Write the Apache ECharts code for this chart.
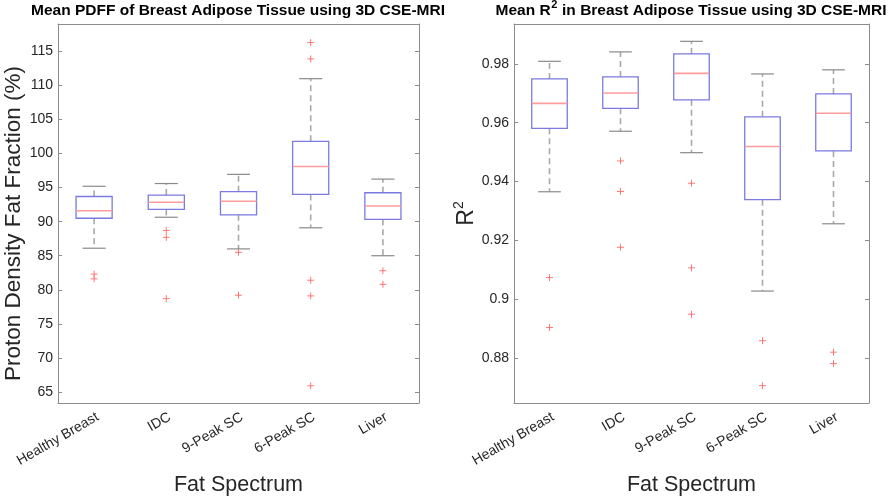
<!DOCTYPE html>
<html><head><meta charset="utf-8">
<script src="https://cdn.jsdelivr.net/npm/echarts@6/dist/echarts.min.js"></script>
<style>html,body{margin:0;padding:0;background:#fff}#c{width:896px;height:499px}</style>
</head><body><div id="c"></div>
<script>
const categories = ['Healthy Breast', 'IDC', '9-Peak SC', '6-Peak SC', 'Liver'];

// [lower whisker, Q1, median, Q3, upper whisker]
const pdffBoxes = [
  [86.1, 90.5, 91.6, 93.7, 95.2],
  [90.65, 91.8, 92.85, 93.9, 95.6],
  [86.0, 91.0, 93.0, 94.4, 96.95],
  [89.1, 94.0, 98.1, 101.8, 111.0],
  [85.0, 90.35, 92.3, 94.25, 96.25]
];
const pdffOutliers = [
  [0, 82.3], [0, 81.6],
  [1, 88.7], [1, 87.7], [1, 78.7],
  [2, 85.5], [2, 79.2],
  [3, 116.3], [3, 113.9], [3, 81.4], [3, 79.1], [3, 65.9],
  [4, 82.8], [4, 80.8]
];
const pdffTicks = [65, 70, 75, 80, 85, 90, 95, 100, 105, 110, 115];
const pdffRange = [63.37, 119.03];

const r2Boxes = [
  [0.9365, 0.9581, 0.9666, 0.9749, 0.9809],
  [0.9571, 0.9649, 0.9701, 0.9756, 0.9841],
  [0.9498, 0.9678, 0.9768, 0.9834, 0.9877],
  [0.9027, 0.9338, 0.9519, 0.9620, 0.9766],
  [0.9256, 0.9504, 0.9632, 0.9698, 0.9780]
];
const r2Outliers = [
  [0, 0.9073], [0, 0.8903],
  [1, 0.9470], [1, 0.9366], [1, 0.9176],
  [2, 0.9394], [2, 0.9106], [2, 0.8948],
  [3, 0.8858], [3, 0.8705],
  [4, 0.8819], [4, 0.8780]
];
const r2Ticks = [0.88, 0.9, 0.92, 0.94, 0.96, 0.98];
const r2Range = [0.8646, 0.9936];

const leftTitle = 'Mean PDFF of Breast Adipose Tissue using 3D CSE-MRI';
const rightTitleParts = ['Mean R', '2', ' in Breast Adipose Tissue using 3D CSE-MRI'];
const xName = 'Fat Spectrum';
const leftYName = 'Proton Density Fat Fraction (%)';

const FONT = '"Liberation Sans", Arial, sans-serif';
const AXIS_COLOR = '#8c8c8c';
const TEXT_COLOR = '#262626';

function renderBox(params, api) {
  const i = api.value(0);
  const lo = api.value(1), q1 = api.value(2), med = api.value(3), q3 = api.value(4), hi = api.value(5);
  const band = api.size([1, 0])[0];
  const half = band * 0.25;
  const cap = band * 0.16;
  const pLo = api.coord([i, lo]), pQ1 = api.coord([i, q1]), pMed = api.coord([i, med]);
  const pQ3 = api.coord([i, q3]), pHi = api.coord([i, hi]);
  const x = pMed[0];
  const dash = { stroke: '#a8a8a8', lineWidth: 1.6, lineDash: [6, 4] };
  const capStyle = { stroke: '#8a8a8a', lineWidth: 1.2 };
  return {
    type: 'group',
    children: [
      { type: 'line', shape: { x1: x, y1: pQ3[1], x2: x, y2: pHi[1] }, style: dash },
      { type: 'line', shape: { x1: x, y1: pQ1[1], x2: x, y2: pLo[1] }, style: dash },
      { type: 'line', shape: { x1: x - cap, y1: pHi[1], x2: x + cap, y2: pHi[1] }, style: capStyle },
      { type: 'line', shape: { x1: x - cap, y1: pLo[1], x2: x + cap, y2: pLo[1] }, style: capStyle },
      { type: 'rect', shape: { x: x - half, y: pQ3[1], width: half * 2, height: pQ1[1] - pQ3[1] },
        style: { fill: 'none', stroke: '#7a7ae0', lineWidth: 1.3 } },
      { type: 'line', shape: { x1: x - half, y1: pMed[1], x2: x + half, y2: pMed[1] },
        style: { stroke: '#ff9c9c', lineWidth: 1.6 } }
    ]
  };
}

function boxData(boxes) { return boxes.map((b, i) => [i].concat(b)); }

function xAxes(gridIndex) {
  return [
    {
      type: 'category', gridIndex, data: categories, position: 'bottom',
      boundaryGap: true,
      axisLine: { lineStyle: { color: AXIS_COLOR } },
      axisTick: { alignWithLabel: true, inside: true, length: 4, lineStyle: { color: AXIS_COLOR } },
      axisLabel: { rotate: 30, color: TEXT_COLOR, fontSize: 14, fontFamily: FONT, margin: 7, interval: 0,
        verticalAlign: 'top' },
      name: xName, nameLocation: 'middle', nameGap: 71,
      nameTextStyle: { fontSize: 21.5, color: TEXT_COLOR, fontFamily: FONT }
    },
    {
      type: 'category', gridIndex, data: categories, position: 'top',
      boundaryGap: true,
      axisLine: { lineStyle: { color: AXIS_COLOR } },
      axisTick: { alignWithLabel: true, inside: true, length: 4, lineStyle: { color: AXIS_COLOR } },
      axisLabel: { show: false }
    }
  ];
}

function yAxes(gridIndex, range, ticks, name, nameGap, nameStyle) {
  return [
    {
      type: 'value', gridIndex, min: range[0], max: range[1], position: 'left',
      splitLine: { show: false },
      axisLine: { show: true, lineStyle: { color: AXIS_COLOR } },
      axisTick: { show: true, inside: true, length: 4, customValues: ticks, lineStyle: { color: AXIS_COLOR } },
      axisLabel: { customValues: ticks, color: TEXT_COLOR, fontSize: 14, fontFamily: FONT, margin: 5 },
      name, nameLocation: 'middle', nameGap, nameTextStyle: nameStyle
    },
    {
      type: 'value', gridIndex, min: range[0], max: range[1], position: 'right',
      splitLine: { show: false },
      axisLine: { show: true, lineStyle: { color: AXIS_COLOR } },
      axisTick: { show: true, inside: true, length: 4, customValues: ticks, lineStyle: { color: AXIS_COLOR } },
      axisLabel: { show: false }
    }
  ];
}

const plusSymbol = 'path://M0,5L10,5M5,0L5,10';

function outlierSeries(data, xi, yi) {
  return {
    type: 'scatter', xAxisIndex: xi, yAxisIndex: yi, data,
    symbol: plusSymbol, symbolSize: 7,
    itemStyle: { color: 'none', borderColor: '#ff5a5a', borderWidth: 1 },
    silent: true
  };
}

// right title built from measured pieces (superscript 2)
const TITLE_FONT = 'bold 15.5px "Liberation Sans", Arial, sans-serif';
const SUP_FONT = 'bold 11px "Liberation Sans", Arial, sans-serif';
const ctx = document.createElement('canvas').getContext('2d');
ctx.font = TITLE_FONT;
const w0 = ctx.measureText(rightTitleParts[0]).width;
const w2 = ctx.measureText(rightTitleParts[2]).width;
ctx.font = SUP_FONT;
const w1 = ctx.measureText(rightTitleParts[1]).width + 1;
const rightCenter = 691;
const rStart = rightCenter - (w0 + w1 + w2) / 2;

const chart = echarts.init(document.getElementById('c'), null, { renderer: 'canvas' });
chart.setOption({
  animation: false,
  textStyle: { fontFamily: FONT },
  graphic: [
    { type: 'text', x: 238, y: 11, style: { text: leftTitle, font: TITLE_FONT, fill: '#000', align: 'center', verticalAlign: 'middle' } },
    { type: 'text', x: rStart, y: 11, style: { text: rightTitleParts[0], font: TITLE_FONT, fill: '#000', align: 'left', verticalAlign: 'middle' } },
    { type: 'text', x: rStart + w0 + 0.5, y: 5, style: { text: rightTitleParts[1], font: SUP_FONT, fill: '#000', align: 'left', verticalAlign: 'middle' } },
    { type: 'text', x: rStart + w0 + w1, y: 11, style: { text: rightTitleParts[2], font: TITLE_FONT, fill: '#000', align: 'left', verticalAlign: 'middle' } }
  ],
  grid: [
    { left: 58, right: 477, top: 24, bottom: 96, outerBoundsMode: 'none', containLabel: false },
    { left: 514, right: 27, top: 24, bottom: 96, outerBoundsMode: 'none', containLabel: false }
  ],
  xAxis: xAxes(0).concat(xAxes(1)),
  yAxis: yAxes(0, pdffRange, pdffTicks, leftYName, 21,
      { fontSize: 22.5, color: TEXT_COLOR, fontFamily: FONT, padding: [0, 20, 0, 0] })
    .concat(yAxes(1, r2Range, r2Ticks, '{a|R}{s|2}', 31,
      { color: TEXT_COLOR, fontFamily: FONT,
        rich: {
          a: { fontSize: 23, color: TEXT_COLOR, fontFamily: FONT, lineHeight: 26, verticalAlign: 'bottom' },
          s: { fontSize: 14, color: TEXT_COLOR, fontFamily: FONT, lineHeight: 16, verticalAlign: 'top' }
        } })),
  series: [
    { type: 'custom', xAxisIndex: 0, yAxisIndex: 0, data: boxData(pdffBoxes), renderItem: renderBox,
      encode: { x: 0, y: [1, 2, 3, 4, 5] }, silent: true },
    outlierSeries(pdffOutliers, 0, 0),
    { type: 'custom', xAxisIndex: 2, yAxisIndex: 2, data: boxData(r2Boxes), renderItem: renderBox,
      encode: { x: 0, y: [1, 2, 3, 4, 5] }, silent: true },
    outlierSeries(r2Outliers, 2, 2)
  ]
});
</script>
</body></html>
